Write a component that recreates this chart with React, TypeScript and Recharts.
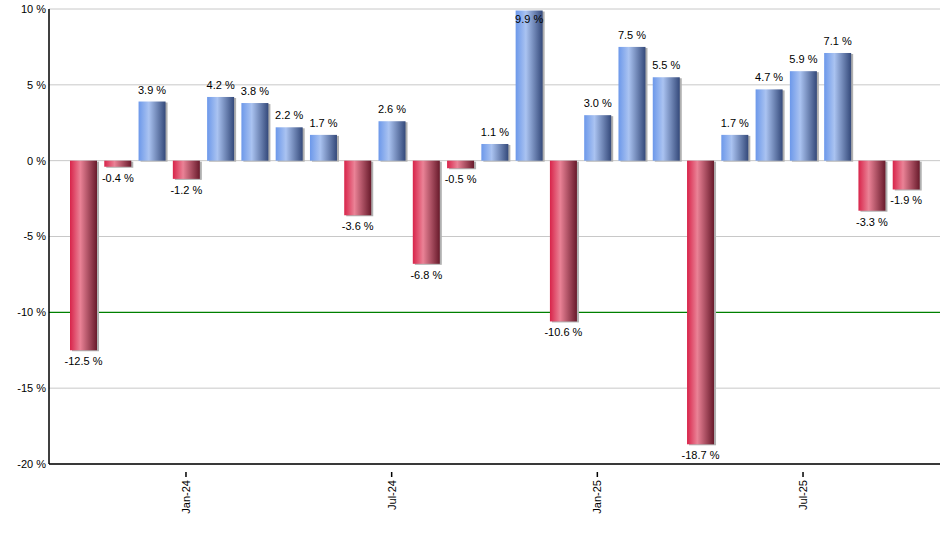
import React from 'react';
import { BarChart, Bar, XAxis, YAxis, CartesianGrid, Cell, LabelList } from 'recharts';

const months = [
  'Oct-23', 'Nov-23', 'Dec-23', 'Jan-24', 'Feb-24', 'Mar-24', 'Apr-24', 'May-24', 'Jun-24',
  'Jul-24', 'Aug-24', 'Sep-24', 'Oct-24', 'Nov-24', 'Dec-24', 'Jan-25', 'Feb-25', 'Mar-25',
  'Apr-25', 'May-25', 'Jun-25', 'Jul-25', 'Aug-25', 'Sep-25', 'Oct-25',
];
const returns = [
  -12.5, -0.4, 3.9, -1.2, 4.2, 3.8, 2.2, 1.7, -3.6,
  2.6, -6.8, -0.5, 1.1, 9.9, -10.6, 3.0, 7.5, 5.5,
  -18.7, 1.7, 4.7, 5.9, 7.1, -3.3, -1.9,
];
const labeledMonths = ['Jan-24', 'Jul-24', 'Jan-25', 'Jul-25'];
const yTicks = [-20, -15, -10, -5, 0, 5, 10];
const thresholdTick = -10; // drawn green, under the bars

const FONT = '"Liberation Sans", Arial, sans-serif';

const data = months.map((m, i) => ({ month: m, value: returns[i] }));

const XTick = (props: any) => {
  const { x, y, payload } = props;
  if (!labeledMonths.includes(payload.value)) return null;
  return (
    <g>
      <line x1={x} y1={y} x2={x} y2={y + 5} stroke="#000" strokeWidth={1.5} />
      <text
        x={x}
        y={y + 8}
        transform={`rotate(-90, ${x}, ${y + 8})`}
        textAnchor="end"
        dominantBaseline="central"
        fontSize={11}
        fontFamily={FONT}
        fill="#000"
      >
        {payload.value}
      </text>
    </g>
  );
};

const GridLine = (props: any) => {
  const { x1, y1, x2, y2, index } = props;
  const green = yTicks[index] === thresholdTick;
  return (
    <line
      x1={x1}
      y1={y1}
      x2={x2}
      y2={y2}
      stroke={green ? '#008000' : '#c8c8c8'}
      strokeWidth={green ? 1.2 : 1}
    />
  );
};

const BarShape = (props: any) => {
  const { x, y, width, height, value } = props;
  const h = Math.abs(height);
  const top = Math.min(y, y + height);
  const fill = value >= 0 ? 'url(#gradBlue)' : 'url(#gradRed)';
  return (
    <g>
      <rect x={x + 2} y={top + 1} width={width} height={h} fill="#b0b0b0" />
      <rect x={x} y={top} width={width} height={h} fill={fill} />
    </g>
  );
};

const ValueLabel = (props: any) => {
  const { x, y, width, height, value } = props;
  const cx = x + width / 2;
  const top = Math.min(y, y + height);
  const bottom = Math.max(y, y + height);
  const ty = value >= 0 ? Math.max(top - 12, 19) : bottom + 11;
  return (
    <text
      x={cx}
      y={ty}
      textAnchor="middle"
      dominantBaseline="central"
      fontSize={11}
      fontFamily={FONT}
      fill="#000"
    >
      {`${value.toFixed(1)} %`}
    </text>
  );
};

export default function App() {
  return (
    <div style={{ position: 'absolute', left: 0, top: 0, width: 940, height: 550, background: '#fff' }}>
      <BarChart
        width={940}
        height={550}
        data={data}
        margin={{ top: 9, right: 0, left: 0, bottom: 26 }}
        barSize={27}
      >
        <defs>
          <linearGradient id="gradRed" x1="0" y1="0" x2="1" y2="0">
            <stop offset="0%" stopColor="#d8244a" />
            <stop offset="38%" stopColor="#ea8296" />
            <stop offset="100%" stopColor="#681a2b" />
          </linearGradient>
          <linearGradient id="gradBlue" x1="0" y1="0" x2="1" y2="0">
            <stop offset="0%" stopColor="#6c98ea" />
            <stop offset="38%" stopColor="#aac3f1" />
            <stop offset="100%" stopColor="#34497a" />
          </linearGradient>
        </defs>
        <CartesianGrid vertical={false} horizontal={(p: any) => <GridLine key={p.key} {...p} />} />
        <XAxis
          dataKey="month"
          interval={0}
          tick={<XTick />}
          tickLine={false}
          axisLine={{ stroke: '#000', strokeWidth: 1.5 }}
          padding={{ left: 17, right: 17 }}
          height={60}
        />
        <YAxis
          domain={[-20, 10]}
          ticks={yTicks}
          width={49}
          tickSize={0}
          tickMargin={3}
          tickFormatter={(v) => `${v} %`}
          tick={{ fill: '#000', fontSize: 11, fontFamily: FONT }}
          axisLine={{ stroke: '#000', strokeWidth: 1.5 }}
          allowDataOverflow
        />
        <Bar dataKey="value" shape={<BarShape />} isAnimationActive={false}>
          {data.map((d, i) => (
            <Cell key={i} fill={d.value >= 0 ? '#6c98ea' : '#d8244a'} />
          ))}
          <LabelList dataKey="value" content={<ValueLabel />} />
        </Bar>
      </BarChart>
    </div>
  );
}
